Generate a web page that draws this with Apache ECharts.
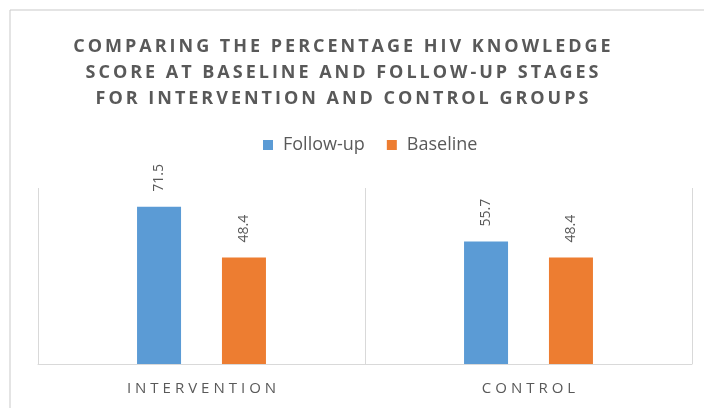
<!DOCTYPE html>
<html>
<head>
<meta charset="utf-8">
<script src="https://cdn.jsdelivr.net/npm/echarts@6/dist/echarts.min.js"></script>
<style>
html, body { margin: 0; padding: 0; background: #fff; }
#main { width: 704px; height: 408px; }
</style>
</head>
<body>
<div id="main"></div>
<script>
const categories = ['INTERVENTION', 'CONTROL'];
const followUp = [71.5, 55.7];
const baseline = [48.4, 48.4];
const seriesNames = ['Follow-up', 'Baseline'];
const titleLines = [
  'COMPARING THE PERCENTAGE HIV KNOWLEDGE',
  'SCORE AT BASELINE AND FOLLOW-UP STAGES',
  'FOR INTERVENTION AND CONTROL GROUPS',
];

// no letterSpacing in echarts, so pad letters with thin spaces
const spaced = (s, pad) => s.split('').join(pad);

const myChart = echarts.init(document.getElementById('main'));

const labelStyle = {
  show: true,
  position: 'top',
  rotate: 90,
  align: 'left',
  verticalAlign: 'middle',
  distance: 15,
  color: '#595959',
  fontSize: 14,
  fontFamily: 'Open Sans',
};

const option = {
  animation: false,
  backgroundColor: '#fff',
  title: {
    left: 337,
    textAlign: 'center',
    top: 29,
    text: titleLines.map(l => spaced(l, '\u2009')).join('\n'),
    textStyle: {
      color: '#595959',
      fontFamily: 'Open Sans',
      fontWeight: 'bold',
      fontSize: 18,
      lineHeight: 26,
    },
  },
  legend: {
    top: 131,
    left: 258,
    itemWidth: 10,
    itemHeight: 10,
    itemGap: 22,
    icon: 'rect',
    data: seriesNames,
    textStyle: {
      color: '#595959',
      fontFamily: 'Open Sans',
      fontSize: 18,
      padding: [0, 0, 0, 5],
    },
  },
  grid: {
    left: 38,
    right: 12,
    top: 188,
    bottom: 44,
  },
  xAxis: {
    type: 'category',
    data: categories,
    axisTick: { show: false },
    axisLine: { lineStyle: { color: '#d9d9d9', width: 1 } },
    splitLine: { show: true, lineStyle: { color: '#d9d9d9', width: 1 } },
    axisLabel: {
      margin: 17,
      color: '#595959',
      fontFamily: 'Open Sans',
      fontSize: 15,
      formatter: v => spaced(v, '\u2009\u200A'),
    },
  },
  yAxis: {
    type: 'value',
    min: 0,
    max: 80,
    show: false,
  },
  graphic: [{
    type: 'rect',
    shape: { x: 10, y: 10, width: 800, height: 600 },
    style: { fill: 'none', stroke: '#c9c9c9', lineWidth: 1 },
    silent: true,
  }],
  series: [
    {
      name: seriesNames[0],
      type: 'bar',
      barWidth: 44,
      barGap: '93%',
      itemStyle: { color: '#5b9bd5' },
      label: labelStyle,
      data: followUp,
    },
    {
      name: seriesNames[1],
      type: 'bar',
      barWidth: 44,
      itemStyle: { color: '#ed7d31' },
      label: labelStyle,
      data: baseline,
    },
  ],
};

myChart.setOption(option);
</script>
</body>
</html>
